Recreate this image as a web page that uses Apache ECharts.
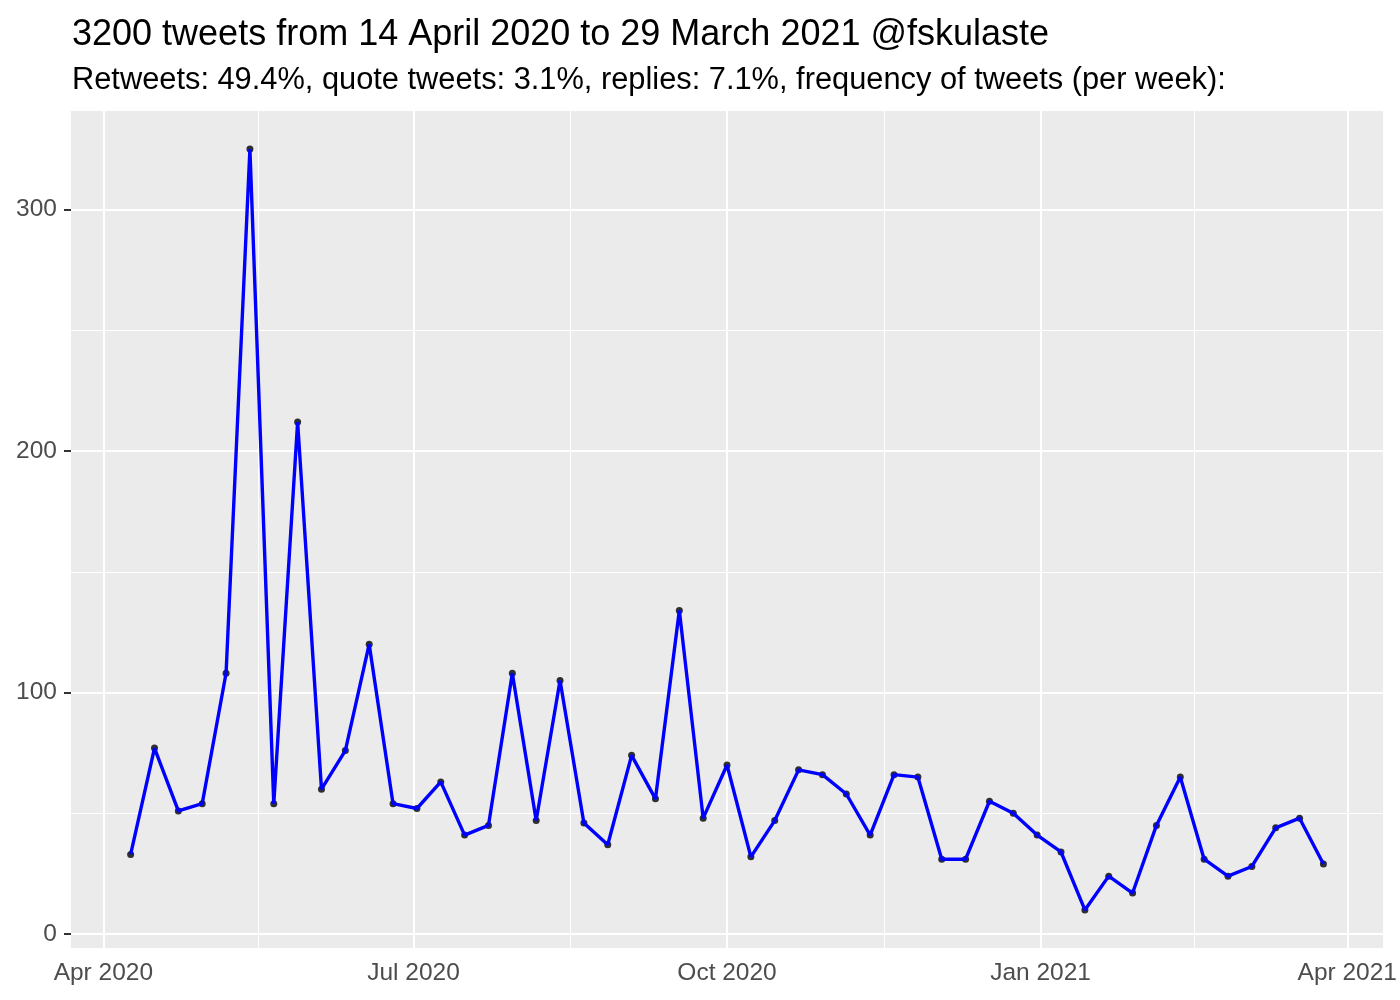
<!DOCTYPE html>
<html>
<head>
<meta charset="utf-8">
<script src="https://cdn.jsdelivr.net/npm/echarts@6/dist/echarts.min.js"></script>
<style>
    html, body { margin: 0; padding: 0; background: #fff; }
    #chart { width: 1400px; height: 1000px; }
</style>
</head>
<body>
<div id="chart"></div>
<script>
// weekly tweet counts
const weeks = [
    "2020-04-09", "2020-04-16", "2020-04-23", "2020-04-30", "2020-05-07", "2020-05-14",
    "2020-05-21", "2020-05-28", "2020-06-04", "2020-06-11", "2020-06-18", "2020-06-25",
    "2020-07-02", "2020-07-09", "2020-07-16", "2020-07-23", "2020-07-30", "2020-08-06",
    "2020-08-13", "2020-08-20", "2020-08-27", "2020-09-03", "2020-09-10", "2020-09-17",
    "2020-09-24", "2020-10-01", "2020-10-08", "2020-10-15", "2020-10-22", "2020-10-29",
    "2020-11-05", "2020-11-12", "2020-11-19", "2020-11-26", "2020-12-03", "2020-12-10",
    "2020-12-17", "2020-12-24", "2020-12-31", "2021-01-07", "2021-01-14", "2021-01-21",
    "2021-01-28", "2021-02-04", "2021-02-11", "2021-02-18", "2021-02-25", "2021-03-04",
    "2021-03-11", "2021-03-18", "2021-03-25"
];
const tweetCounts = [
    33, 77, 51, 54, 108, 325, 54, 212, 60, 76, 120, 54,
    52, 63, 41, 45, 108, 47, 105, 46, 37, 74, 56, 134,
    48, 70, 32, 47, 68, 66, 58, 41, 66, 65, 31, 31,
    55, 50, 41, 34, 10, 24, 17, 45, 65, 31, 24, 28,
    44, 48, 29
];

// axis breaks
const dateBreaks = ["2020-04-01", "2020-07-01", "2020-10-01", "2021-01-01", "2021-04-01"];
const dateMinorBreaks = ["2020-05-16T12:00", "2020-08-16", "2020-11-16", "2021-02-15"];
const yBreaks = [0, 100, 200, 300];
const yMinorBreaks = [50, 150, 250];
const xLimits = ["2020-03-22T12:00", "2021-04-11T12:00"];
const yLimits = [-5.75, 340.75];

const titleText = "3200 tweets from 14 April 2020 to 29 March 2021 @fskulaste";
const subtitleText = "Retweets: 49.4%, quote tweets: 3.1%, replies: 7.1%, frequency of tweets (per week):";

const months = ["Jan", "Feb", "Mar", "Apr", "May", "Jun", "Jul", "Aug", "Sep", "Oct", "Nov", "Dec"];
const ts = (s) => Date.parse(s.length === 10 ? s + "T00:00:00Z" : s + ":00Z");

const myChart = echarts.init(document.getElementById("chart"));
const font = "'Liberation Sans', Arial, sans-serif";

const gridLines = [];
yBreaks.forEach((v) => gridLines.push({ yAxis: v, lineStyle: { width: 2 } }));
yMinorBreaks.forEach((v) => gridLines.push({ yAxis: v, lineStyle: { width: 1 } }));
dateBreaks.forEach((d) => gridLines.push({ xAxis: ts(d), lineStyle: { width: 2 } }));
dateMinorBreaks.forEach((d) => gridLines.push({ xAxis: ts(d), lineStyle: { width: 1 } }));

const seriesData = weeks.map((w, i) => [ts(w), tweetCounts[i]]);

const option = {
    animation: false,
    backgroundColor: "#ffffff",
    textStyle: { fontFamily: font },
    title: [
        {
            text: titleText,
            left: 72,
            top: 17,
            padding: 0,
            textStyle: { fontSize: 36, fontWeight: "normal", color: "#000", fontFamily: font },
        },
        {
            text: subtitleText,
            left: 72,
            top: 65,
            padding: 0,
            textStyle: { fontSize: 30.8, fontWeight: "normal", color: "#000", fontFamily: font },
        },
    ],
    grid: {
        left: 71,
        right: 15,
        top: 111,
        bottom: 52,
        show: true,
        backgroundColor: "#EBEBEB",
        borderWidth: 0,
    },
    xAxis: {
        type: "value",
        min: ts(xLimits[0]),
        max: ts(xLimits[1]),
        axisLine: { show: false },
        splitLine: { show: false },
        axisTick: {
            show: true,
            customValues: dateBreaks.map(ts),
            length: 7,
            lineStyle: { color: "#333333", width: 2 },
        },
        axisLabel: {
            customValues: dateBreaks.map(ts),
            margin: 13,
            fontSize: 24.5,
            color: "#4D4D4D",
            fontFamily: font,
            formatter: (v) => {
                const d = new Date(v);
                return months[d.getUTCMonth()] + " " + d.getUTCFullYear();
            },
        },
    },
    yAxis: {
        type: "value",
        min: yLimits[0],
        max: yLimits[1],
        axisLine: { show: false },
        splitLine: { show: false },
        axisTick: {
            show: true,
            customValues: yBreaks,
            length: 7,
            lineStyle: { color: "#333333", width: 2 },
        },
        axisLabel: {
            customValues: yBreaks,
            margin: 14,
            fontSize: 24.5,
            color: "#4D4D4D",
            fontFamily: font,
        },
    },
    series: [
        {
            type: "scatter",
            data: seriesData,
            symbolSize: 7,
            itemStyle: { color: "#000" },
            z: 2,
            silent: true,
            markLine: {
                silent: true,
                symbol: "none",
                z: 1,
                label: { show: false },
                lineStyle: { type: "solid", color: "#ffffff" },
                data: gridLines,
            },
        },
        {
            type: "line",
            data: seriesData,
            showSymbol: false,
            lineStyle: { color: "#0000FF", width: 3.4 },
            z: 3,
            silent: true,
        },
    ],
};
myChart.setOption(option);
</script>
</body>
</html>
